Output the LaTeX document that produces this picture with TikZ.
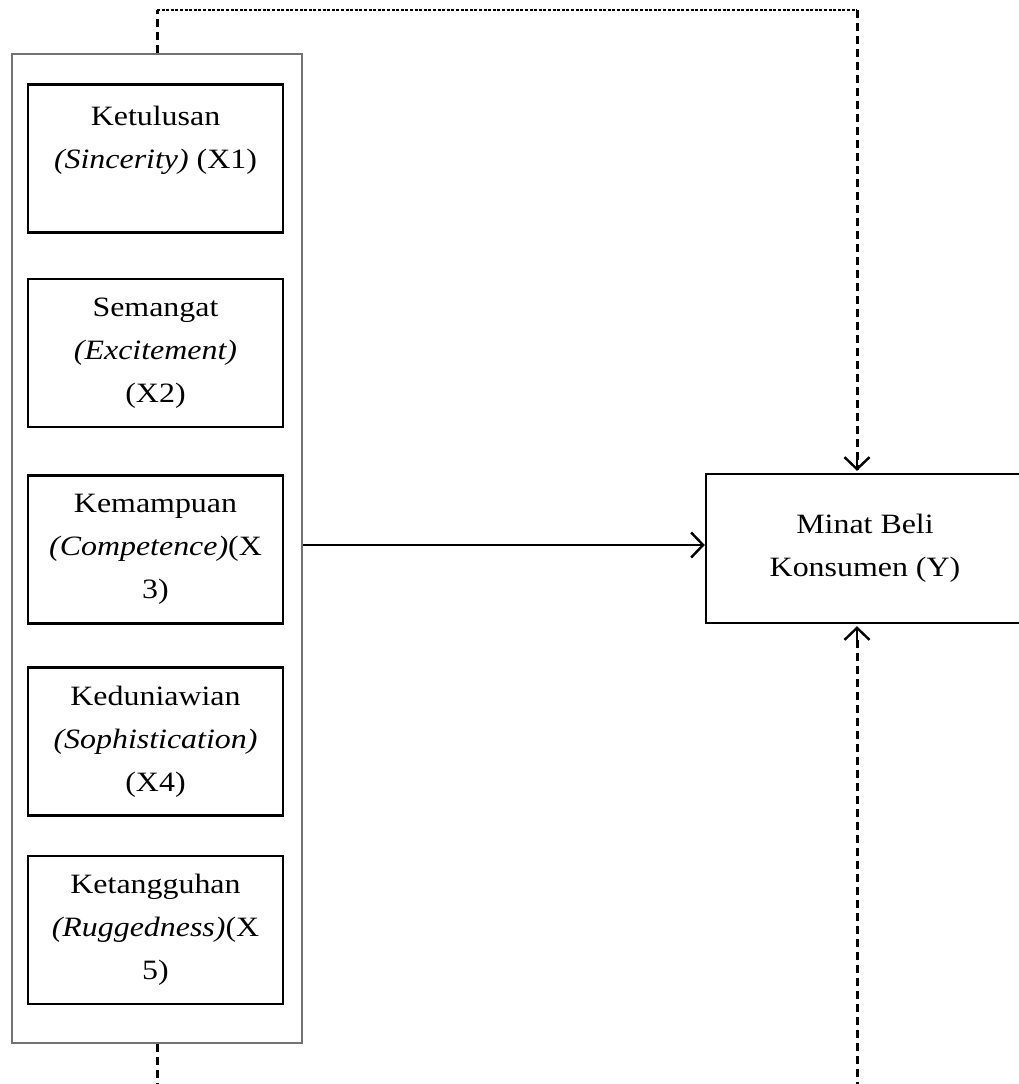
\documentclass[tikz,border=0pt]{standalone}
\usepackage{fontspec}
\setmainfont{Liberation Serif}[FakeStretch=1.14]
\usetikzlibrary{arrows.meta}
\begin{document}
\begin{tikzpicture}[x=1pt,y=-1pt,
  varbox/.style={draw=black,line width=2.4pt,minimum width=255pt,minimum height=148pt,inner sep=0pt,align=center,font=\fontsize{28}{43}\selectfont},
  outerbox/.style={draw=black!55,line width=1.4pt,minimum width=290pt,minimum height=989pt,inner sep=0pt},
  ybox/.style={draw=black,line width=2.4pt,minimum width=318pt,minimum height=149pt,inner sep=0pt,align=center,font=\fontsize{28}{43}\selectfont},
  dashline/.style={line width=3pt,dash pattern=on 8pt off 5pt},
  dotline/.style={line width=1.2pt,dash pattern=on 3pt off 1.6pt},
  arr/.style={-{Straight Barb[length=12pt,width=25pt]}}
]
\useasboundingbox (0,0) rectangle (1019,1084);
\node[outerbox] (outer) at (157,548.5) {};
\node[varbox] (x1) at (155.5,158.5) {Ketulusan\\\textit{(Sincerity)} (X1)\\\mbox{}};
\node[varbox] (x2) at (155.5,353) {Semangat\\\textit{(Excitement)}\\(X2)};
\node[varbox] (x3) at (155.5,549.5) {Kemampuan\\\textit{(Competence)}(X\\3)};
\node[varbox] (x4) at (155.5,741.5) {Keduniawian\\\textit{(Sophistication)}\\(X4)};
\node[varbox] (x5) at (155.5,930) {Ketangguhan\\\textit{(Ruggedness)}(X\\5)};
\node[ybox] (y) at (865,548.5) {Minat Beli\\Konsumen (Y)};
\coordinate (t1) at (157,10);
\coordinate (t2) at (857,10);
\coordinate (b1) at (857,1090);
\coordinate (b2) at (157,1090);
% main arrow
\draw[line width=2.4pt,arr] ([yshift=3.5pt]outer.east) -- ([yshift=3.5pt]y.west);
% top loop
\draw[dashline] (outer.north) -- (t1);
\draw[dotline] (t1) -- (t2);
\draw[dashline] (t2) -- ([yshift=3pt]t2 |- y.north);
\draw[line width=2.4pt,arr] ([yshift=16pt]t2 |- y.north) -- ([yshift=2pt]t2 |- y.north);
% bottom
\draw[dashline] (b1) -- ([yshift=-16pt]b1 |- y.south);
\draw[line width=2.4pt,arr] ([yshift=-16pt]b1 |- y.south) -- ([yshift=-2pt]b1 |- y.south);
\draw[dashline] (outer.south) -- (b2);
\end{tikzpicture}
\end{document}
